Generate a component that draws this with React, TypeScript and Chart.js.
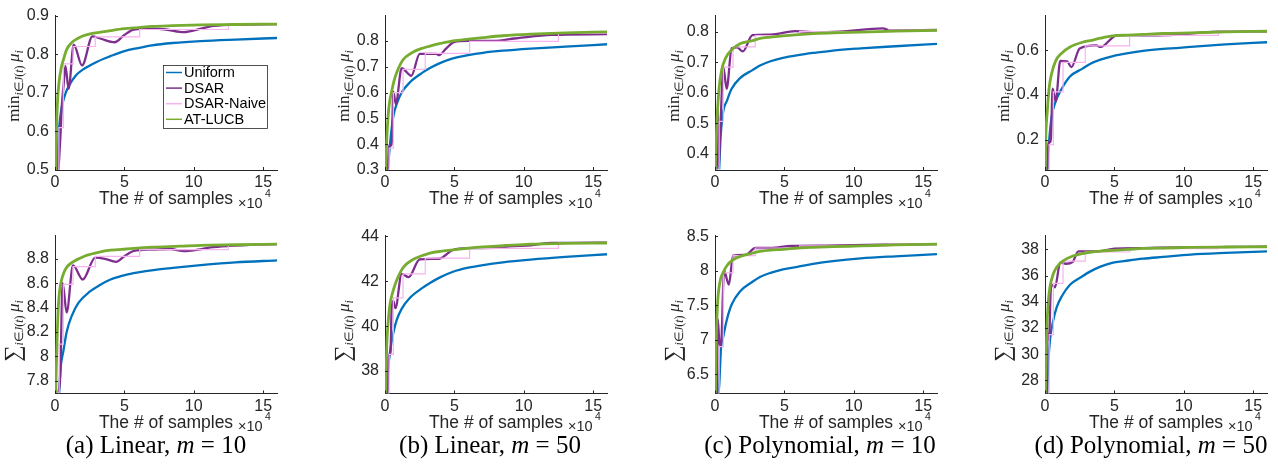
import React, { useEffect, useRef } from "react";
import { Chart, registerables } from "chart.js";

Chart.register(...registerables);

type P = [number, number][];

// x values are in units of 10^4 samples
const xTicks = [0, 5, 10, 15];
const seriesLabels = ["Uniform", "DSAR", "DSAR-Naive", "AT-LUCB"];
const xTitle = "The # of samples";
const xExponent = "4";

// ---------- (a) Linear, m = 10 ----------
const aTopTicks = [0.5, 0.6, 0.7, 0.8, 0.9];
const aTopUniform: P = [[0.15,0.5],[0.22,0.56],[0.3,0.61],[0.45,0.655],[0.6,0.68],[0.77,0.7],[1.0,0.718],[1.5,0.745],[2.0,0.76],[3.0,0.78],[4.0,0.795],[5,0.808],[6,0.816],[7,0.823],[8.5,0.829],[10.5,0.834],[13,0.838],[16,0.842]];
const aTopDSAR: P = [[0.25,0.5],[0.38,0.58],[0.5,0.67],[0.62,0.72],[0.75,0.77],[0.98,0.71],[1.35,0.825],[1.95,0.771],[2.7,0.846],[3.3,0.84],[4.3,0.831],[5.0,0.85],[5.7,0.864],[7,0.866],[8,0.864],[9.3,0.857],[10.3,0.864],[11.2,0.872],[12.5,0.876],[16,0.878]];
const aTopNaive: P = [[0.2,0.5],[0.28,0.61],[0.6,0.775],[1.3,0.82],[2.9,0.845],[6.1,0.864],[12.5,0.877],[16,0.877]];
const aTopATLUCB: P = [[0.05,0.5],[0.12,0.62],[0.2,0.69],[0.3,0.73],[0.45,0.765],[0.6,0.785],[0.84,0.812],[1.2,0.83],[1.6,0.84],[2.0,0.847],[2.6,0.853],[3.3,0.857],[4,0.861],[5,0.866],[6,0.869],[7,0.872],[8.5,0.874],[10.5,0.876],[13,0.877],[16,0.878]];

const aBotTicks = [7.8, 8, 8.2, 8.4, 8.6, 8.8];
const aBotUniform: P = [[0.3,7.7],[0.4,7.9],[0.6,8.04],[0.84,8.2],[1.2,8.33],[1.7,8.44],[2.5,8.53],[3.24,8.585],[4,8.63],[5.1,8.668],[6,8.688],[7.1,8.707],[8.5,8.725],[10.5,8.747],[13,8.77],[16,8.787]];
const aBotDSAR: P = [[0.25,7.7],[0.38,7.85],[0.55,8.6],[0.84,8.36],[1.3,8.745],[2.0,8.63],[2.9,8.81],[3.6,8.8],[4.4,8.775],[5,8.82],[5.7,8.865],[7,8.875],[8.3,8.88],[9.3,8.862],[10.3,8.875],[11.2,8.893],[12.5,8.905],[16,8.92]];
const aBotNaive: P = [[0.2,7.7],[0.3,8.1],[0.6,8.59],[1.3,8.735],[2.9,8.82],[6.1,8.875],[12.5,8.915],[16,8.915]];
const aBotATLUCB: P = [[0.05,7.7],[0.12,8.02],[0.24,8.41],[0.35,8.55],[0.48,8.63],[0.65,8.69],[0.84,8.73],[1.3,8.775],[1.8,8.805],[2.2,8.825],[3.2,8.855],[4,8.87],[5.1,8.88],[7,8.895],[9,8.903],[10.5,8.91],[13,8.915],[16,8.92]];

// ---------- (b) Linear, m = 50 ----------
const bTopTicks = [0.3, 0.4, 0.5, 0.6, 0.7, 0.8];
const bTopUniform: P = [[0.2,0.3],[0.36,0.4],[0.6,0.508],[0.84,0.555],[1.2,0.6],[1.8,0.64],[2.7,0.677],[3.24,0.695],[4,0.715],[4.9,0.732],[6,0.745],[7.07,0.754],[8.5,0.762],[10.5,0.77],[13,0.778],[16,0.787]];
const bTopDSAR: P = [[0.2,0.3],[0.3,0.395],[0.48,0.395],[0.6,0.603],[0.78,0.555],[1.2,0.694],[1.9,0.665],[2.5,0.75],[3.7,0.75],[3.9,0.745],[4.4,0.77],[5,0.796],[6,0.8],[8,0.8],[9,0.807],[10.2,0.815],[12,0.823],[16,0.826]];
const bTopNaive: P = [[0.2,0.3],[0.3,0.385],[0.6,0.6],[1.3,0.69],[2.9,0.752],[6.1,0.798],[12.5,0.83],[16,0.83]];
const bTopATLUCB: P = [[0.05,0.3],[0.12,0.41],[0.24,0.52],[0.35,0.57],[0.48,0.604],[0.65,0.645],[0.84,0.677],[1.3,0.727],[2,0.756],[2.6,0.77],[3.24,0.78],[4,0.79],[4.9,0.8],[6,0.807],[7.07,0.813],[8.5,0.82],[10.5,0.826],[13,0.831],[16,0.835]];

const bBotTicks = [38, 40, 42, 44];
const bBotUniform: P = [[0.15,37],[0.24,38.14],[0.36,38.85],[0.6,39.7],[0.84,40.27],[1.2,40.77],[1.8,41.26],[2.7,41.7],[3.24,41.92],[4,42.18],[4.9,42.42],[6,42.6],[7.07,42.72],[8.5,42.84],[10.5,42.96],[13,43.08],[16,43.2]];
const bBotDSAR: P = [[0.18,37],[0.24,38.57],[0.4,38.85],[0.48,40.84],[0.6,41.12],[0.75,40.8],[1.2,42.33],[1.7,42.18],[2.5,42.97],[3.9,43.0],[4.9,43.39],[6.1,43.47],[8,43.48],[9,43.55],[10.5,43.6],[12,43.7],[16,43.72]];
const bBotNaive: P = [[0.2,37],[0.3,38.74],[0.6,41.26],[1.3,42.33],[2.9,43.03],[6.1,43.46],[12.5,43.7],[16,43.7]];
const bBotATLUCB: P = [[0.05,37],[0.12,39],[0.24,40.27],[0.36,40.98],[0.6,41.6],[0.84,42.04],[1.3,42.6],[2,42.96],[2.6,43.12],[3.24,43.25],[4,43.33],[4.9,43.39],[6,43.47],[7.07,43.53],[8.5,43.58],[10.5,43.65],[13,43.68],[16,43.7]];

// ---------- (c) Polynomial, m = 10 ----------
const cTopTicks = [0.4, 0.5, 0.6, 0.7, 0.8];
const cTopUniform: P = [[0.3,0.35],[0.41,0.46],[0.6,0.541],[0.84,0.572],[1.2,0.613],[1.8,0.648],[2.7,0.674],[3.24,0.689],[4,0.703],[4.9,0.714],[6,0.723],[7.07,0.73],[8.5,0.738],[10.5,0.745],[13,0.752],[16,0.76]];
const cTopDSAR: P = [[0.12,0.35],[0.2,0.55],[0.25,0.36],[0.4,0.5],[0.6,0.684],[0.84,0.613],[1.2,0.745],[1.6,0.748],[2.0,0.735],[2.7,0.788],[4,0.79],[5.8,0.801],[7,0.798],[9,0.8],[12.1,0.81],[12.6,0.804],[16,0.805]];
const cTopNaive: P = [[0.2,0.35],[0.3,0.507],[0.6,0.684],[1.3,0.75],[2.9,0.787],[6.1,0.8],[12.5,0.805],[16,0.805]];
const cTopATLUCB: P = [[0.02,0.35],[0.05,0.4],[0.17,0.531],[0.29,0.613],[0.48,0.674],[0.77,0.714],[1.2,0.74],[1.8,0.76],[2.7,0.77],[3.24,0.778],[4,0.782],[4.9,0.786],[6,0.79],[7.07,0.793],[8.5,0.796],[10.5,0.798],[13,0.801],[16,0.804]];

const cBotTicks = [6.5, 7, 7.5, 8, 8.5];
const cBotUniform: P = [[0.25,6.22],[0.31,6.36],[0.43,6.87],[0.6,7.05],[0.84,7.28],[1.2,7.51],[1.8,7.7],[2.7,7.84],[3.24,7.91],[4,7.97],[4.9,8.02],[6,8.06],[7.07,8.1],[8.5,8.14],[10.5,8.18],[13,8.21],[16,8.24]];
const cBotDSAR: P = [[0.15,6.22],[0.2,7.3],[0.3,7.0],[0.43,6.9],[0.65,8.0],[1.0,7.8],[1.3,8.22],[2.2,8.23],[2.9,8.33],[4,8.33],[5.5,8.36],[8,8.365],[10,8.37],[12,8.38],[16,8.385]];
const cBotNaive: P = [[0.2,6.22],[0.3,6.9],[0.6,7.97],[1.3,8.22],[2.9,8.33],[6.1,8.36],[12.5,8.385],[16,8.385]];
const cBotATLUCB: P = [[0.03,6.22],[0.08,6.9],[0.17,7.47],[0.36,7.84],[0.6,7.98],[0.84,8.07],[1.3,8.16],[2,8.22],[2.6,8.25],[3.24,8.28],[4,8.3],[4.9,8.31],[6,8.33],[7.07,8.34],[8.5,8.35],[10.5,8.36],[13,8.375],[16,8.385]];

// ---------- (d) Polynomial, m = 50 ----------
const dTopTicks = [0.2, 0.4, 0.6];
const dTopUniform: P = [[0.15,0.065],[0.29,0.19],[0.48,0.303],[0.77,0.372],[1.2,0.428],[1.8,0.483],[2.7,0.518],[3.24,0.539],[4,0.558],[4.9,0.574],[6,0.587],[7.07,0.597],[8.5,0.606],[10.5,0.615],[13,0.626],[16,0.636]];
const dTopDSAR: P = [[0.18,0.065],[0.24,0.19],[0.41,0.19],[0.55,0.428],[0.77,0.372],[1.1,0.553],[1.6,0.55],[1.9,0.525],[2.5,0.608],[3.7,0.622],[4,0.615],[5.2,0.668],[7,0.667],[9,0.668],[11.5,0.68],[12.5,0.683],[16,0.685]];
const dTopNaive: P = [[0.2,0.065],[0.3,0.178],[0.6,0.414],[1.3,0.546],[2.9,0.62],[6.1,0.667],[12.5,0.685],[16,0.685]];
const dTopATLUCB: P = [[0.02,0.065],[0.05,0.19],[0.17,0.33],[0.29,0.428],[0.48,0.497],[0.77,0.553],[1.2,0.587],[1.8,0.615],[2.7,0.636],[3.24,0.643],[4,0.654],[4.9,0.664],[6,0.668],[7.07,0.671],[8.5,0.675],[10.5,0.678],[13,0.682],[16,0.685]];

const dBotTicks = [28, 30, 32, 34, 36, 38];
const dBotUniform: P = [[0.15,27],[0.24,29.4],[0.36,31.1],[0.6,32.6],[0.84,33.57],[1.2,34.4],[1.8,35.3],[2.7,35.95],[3.24,36.3],[4,36.68],[4.9,36.98],[6,37.15],[7.07,37.29],[8.5,37.42],[10.5,37.6],[13,37.73],[16,37.85]];
const dBotDSAR: P = [[0.15,27],[0.17,31.6],[0.29,31.1],[0.41,34.8],[0.5,35.3],[0.72,35.1],[1.1,37.0],[1.5,36.9],[2.0,37.05],[2.4,37.85],[3.9,37.85],[5,38.05],[7,38.1],[10,38.15],[16,38.2]];
const dBotNaive: P = [[0.2,27],[0.3,31.5],[0.6,35.4],[1.3,37.1],[2.9,37.8],[6.1,38.05],[12.5,38.2],[16,38.2]];
const dBotATLUCB: P = [[0.03,27],[0.12,31.6],[0.24,34.05],[0.36,35.15],[0.6,36.14],[0.84,36.63],[1.3,37.12],[2,37.49],[2.6,37.66],[3.24,37.78],[4,37.87],[4.9,37.93],[6,38.0],[7.07,38.07],[8.5,38.1],[10.5,38.15],[13,38.18],[16,38.2]];

const captionLetters = ["(a)", "(b)", "(c)", "(d)"];
const captionModels = ["Linear", "Linear", "Polynomial", "Polynomial"];
const captionM = ["10", "50", "10", "50"];

// ---------- styling ----------
const AX = "#262626";
const SANS = '"Liberation Sans", Arial, Helvetica, sans-serif';
const SERIF = '"Liberation Serif", "Times New Roman", serif';
const COLORS = ["#0072BD", "#7E2F8E", "#F6B3F0", "#77AC30"];
const WIDTHS = [2.3, 2.3, 1.2, 2.8];
const ORDERS = [3, 2, 1, 0];

type PanelDef = {
  left: number;
  top: number;
  row: 0 | 1;
  yMin: number;
  yMax: number;
  yTicks: number[];
  series: P[];
  legend: boolean;
};

const panels: PanelDef[] = [
  { left: 0, top: 0, row: 0, yMin: 0.5, yMax: 0.9, yTicks: aTopTicks, series: [aTopUniform, aTopDSAR, aTopNaive, aTopATLUCB], legend: true },
  { left: 330, top: 0, row: 0, yMin: 0.3, yMax: 0.898, yTicks: bTopTicks, series: [bTopUniform, bTopDSAR, bTopNaive, bTopATLUCB], legend: false },
  { left: 660, top: 0, row: 0, yMin: 0.348, yMax: 0.852, yTicks: cTopTicks, series: [cTopUniform, cTopDSAR, cTopNaive, cTopATLUCB], legend: false },
  { left: 990, top: 0, row: 0, yMin: 0.065, yMax: 0.755, yTicks: dTopTicks, series: [dTopUniform, dTopDSAR, dTopNaive, dTopATLUCB], legend: false },
  { left: 0, top: 220, row: 1, yMin: 7.695, yMax: 8.99, yTicks: aBotTicks, series: [aBotUniform, aBotDSAR, aBotNaive, aBotATLUCB], legend: false },
  { left: 330, top: 220, row: 1, yMin: 37, yMax: 44.03, yTicks: bBotTicks, series: [bBotUniform, bBotDSAR, bBotNaive, bBotATLUCB], legend: false },
  { left: 660, top: 220, row: 1, yMin: 6.22, yMax: 8.51, yTicks: cBotTicks, series: [cBotUniform, cBotDSAR, cBotNaive, cBotATLUCB], legend: false },
  { left: 990, top: 220, row: 1, yMin: 27, yMax: 39.05, yTicks: dBotTicks, series: [dBotUniform, dBotDSAR, dBotNaive, dBotATLUCB], legend: false },
];

const CW = 288;
const CH = 215;

type Piece = { t: string; f: string; dy: number };

function yLabelPieces(kind: "min" | "sum"): Piece[] {
  const big = `17px ${SERIF}`;
  const sub = `12px ${SERIF}`;
  const subI = `italic 12px ${SERIF}`;
  const head: Piece = kind === "min" ? { t: "min", f: big, dy: 0 } : { t: "\u2211", f: `23px ${SERIF}`, dy: 1 };
  return [
    head,
    { t: "i", f: subI, dy: 4 },
    { t: "\u2208", f: sub, dy: 4 },
    { t: "J", f: subI, dy: 4 },
    { t: "(", f: sub, dy: 4 },
    { t: "t", f: subI, dy: 4 },
    { t: ")", f: sub, dy: 4 },
    { t: "\u2009", f: big, dy: 0 },
    { t: "\u03BC", f: `italic 17px ${SERIF}`, dy: 0 },
    { t: "i", f: subI, dy: 4 },
  ];
}

const matlabPlugin = {
  id: "matlab",
  afterDraw(chart: any, _args: any, opts: any) {
    const ctx: CanvasRenderingContext2D = chart.ctx;
    const ca = chart.chartArea;
    const xs = chart.scales.x;
    const ys = chart.scales.y;
    ctx.save();
    // inward tick marks
    ctx.strokeStyle = AX;
    ctx.lineWidth = 1;
    ctx.beginPath();
    for (const t of xs.ticks) {
      const px = Math.round(xs.getPixelForValue(t.value)) + 0.5;
      ctx.moveTo(px, ca.bottom);
      ctx.lineTo(px, ca.bottom - 3);
    }
    for (const t of ys.ticks) {
      const py = Math.round(ys.getPixelForValue(t.value)) + 0.5;
      ctx.moveTo(ca.left, py);
      ctx.lineTo(ca.left + 3, py);
    }
    ctx.stroke();

    // x title
    ctx.fillStyle = AX;
    ctx.textBaseline = "alphabetic";
    ctx.textAlign = "center";
    ctx.font = `17.5px ${SANS}`;
    ctx.fillText(xTitle, (ca.left + ca.right) / 2, ca.bottom + 34);
    // x10^4 multiplier
    ctx.textAlign = "left";
    ctx.font = `14.5px ${SANS}`;
    ctx.fillText("\u00D710", ca.right - 39, ca.bottom + 37.5);
    ctx.font = `10.5px ${SANS}`;
    ctx.fillText(xExponent, ca.right - 12, ca.bottom + 26.5);

    // y label (rotated, with subscripts)
    const pieces = yLabelPieces(opts.kind);
    let total = 0;
    const widths = pieces.map((p) => {
      ctx.font = p.f;
      const w = ctx.measureText(p.t).width;
      total += w;
      return w;
    });
    ctx.save();
    ctx.translate(19, opts.labelY);
    ctx.rotate(-Math.PI / 2);
    let x = -total / 2;
    pieces.forEach((p, i) => {
      ctx.font = p.f;
      ctx.fillText(p.t, x, p.dy);
      x += widths[i];
    });
    ctx.restore();

    // legend
    if (opts.legend) {
      const bx = 163.5, by = 65.5, bw = 104, bh = 63;
      ctx.fillStyle = "#ffffff";
      ctx.fillRect(bx, by, bw, bh);
      ctx.strokeStyle = AX;
      ctx.lineWidth = 0.8;
      ctx.strokeRect(bx, by, bw, bh);
      ctx.font = `14.5px ${SANS}`;
      ctx.textBaseline = "middle";
      chart.data.datasets.forEach((ds: any, i: number) => {
        const y = by + 7 + i * 15.6;
        ctx.strokeStyle = ds.borderColor;
        ctx.lineWidth = 1.5;
        ctx.beginPath();
        ctx.moveTo(bx + 2.5, y);
        ctx.lineTo(bx + 18.5, y);
        ctx.stroke();
        ctx.fillStyle = "#000000";
        ctx.fillText(ds.label, bx + 20.5, y + 0.5);
      });
    }
    ctx.restore();
  },
};

function Panel({ def }: { def: PanelDef }) {
  const ref = useRef<HTMLCanvasElement | null>(null);
  useEffect(() => {
    if (!ref.current) return;
    const padTop = def.row === 0 ? 5 : 8.5;
    const xAxisH = def.row === 0 ? 45 : 41.5;
    const chart = new Chart(ref.current, {
      type: "line",
      data: {
        datasets: def.series.map((s, i) => ({
          label: seriesLabels[i],
          data: s.map(([x, y]) => ({ x, y })),
          borderColor: COLORS[i],
          backgroundColor: COLORS[i],
          borderWidth: WIDTHS[i],
          pointRadius: 0,
          fill: false,
          order: ORDERS[i],
          stepped: i === 2 ? true : false,
          cubicInterpolationMode: i === 2 ? "default" : "monotone",
        })) as any,
      },
      options: {
        animation: false,
        responsive: false,
        events: [],
        layout: { padding: { top: padTop, right: CW - 277, left: 0, bottom: 0 }, autoPadding: false } as any,
        plugins: {
          legend: { display: false },
          tooltip: { enabled: false },
          matlab: { kind: def.row === 0 ? "min" : "sum", legend: def.legend, labelY: def.row === 0 ? 86 : 111 },
        } as any,
        scales: {
          x: {
            type: "linear",
            min: 0,
            max: 16,
            grid: { display: false, drawTicks: false, tickLength: 0 },
            border: { display: true, color: AX, width: 1 },
            ticks: {
              color: AX,
              font: { family: SANS, size: 16 },
              padding: 3,
              maxRotation: 0,
              autoSkip: false,
              callback: (v: any) => String(v),
            },
            afterBuildTicks: (s: any) => {
              s.ticks = xTicks.map((v) => ({ value: v }));
            },
            afterFit: (s: any) => {
              s.height = xAxisH;
            },
          },
          y: {
            type: "linear",
            min: def.yMin,
            max: def.yMax,
            grid: { display: false, drawTicks: false, tickLength: 0 },
            border: { display: true, color: AX, width: 1 },
            ticks: {
              color: AX,
              font: { family: SANS, size: 16 },
              padding: 6,
              autoSkip: false,
              callback: (v: any) => String(v),
            },
            afterBuildTicks: (s: any) => {
              s.ticks = def.yTicks.map((v) => ({ value: v }));
            },
            afterFit: (s: any) => {
              s.width = 55;
            },
          },
        } as any,
      },
      plugins: [matlabPlugin as any],
    });
    return () => chart.destroy();
  }, [def]);
  return (
    <canvas
      ref={ref}
      width={CW}
      height={CH}
      style={{ position: "absolute", left: def.left, top: def.top, width: CW, height: CH }}
    />
  );
}

const captionCenters = [156, 490, 820, 1151];

export default function App() {
  return (
    <div
      style={{
        position: "fixed",
        left: 0,
        top: 0,
        width: 1278,
        height: 465,
        background: "#ffffff",
        overflow: "hidden",
      }}
    >
      {panels.map((p, i) => (
        <Panel key={i} def={p} />
      ))}
      {captionLetters.map((c, i) => (
        <div
          key={c}
          style={{
            position: "absolute",
            left: captionCenters[i] - 160,
            width: 320,
            top: 430,
            textAlign: "center",
            fontFamily: SERIF,
            fontSize: 25,
            lineHeight: "30px",
            color: "#000",
            whiteSpace: "nowrap",
          }}
        >
          {c} {captionModels[i]}, <i>m</i>&nbsp;=&nbsp;{captionM[i]}
        </div>
      ))}
    </div>
  );
}
